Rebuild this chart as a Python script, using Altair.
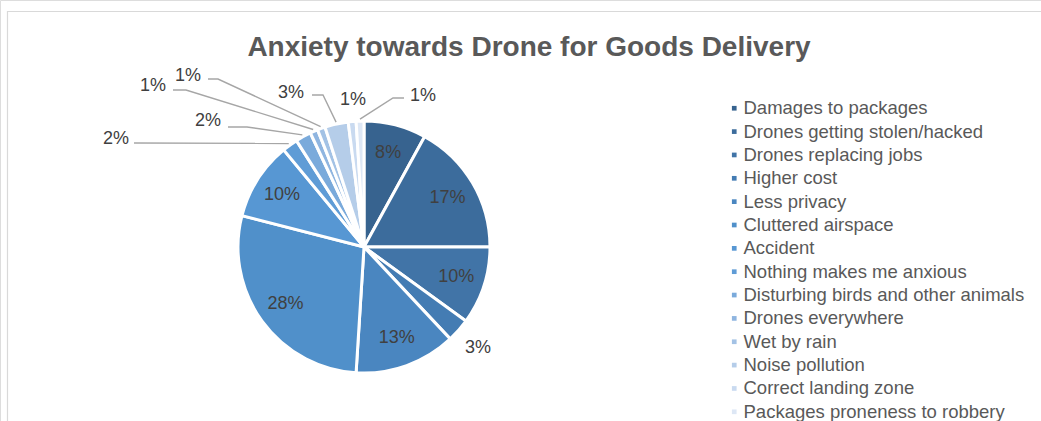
import math
import altair as alt
import pandas as pd

# ---------------- data ----------------
categories = [
    "Damages to packages",
    "Drones getting stolen/hacked",
    "Drones replacing jobs",
    "Higher cost",
    "Less privacy",
    "Cluttered airspace",
    "Accident",
    "Nothing makes me anxious",
    "Disturbing birds and other animals",
    "Drones everywhere",
    "Wet by rain",
    "Noise pollution",
    "Correct landing zone",
    "Packages proneness to robbery",
]
values = [8, 17, 10, 3, 13, 28, 10, 2, 2, 1, 1, 3, 1, 1]
colors = [
    "#37638F", "#3C6C9C", "#4174A7", "#447CB3", "#4A86C0", "#5090CA", "#5797D3",
    "#5F9CD6", "#7AAADB", "#8FB5E0", "#A3C2E5", "#B5CDE9", "#C9DAF0", "#DDE7F5",
]
title_text = "Anxiety towards Drone for Goods Delivery"

# label placement: "in" = inside slice, "out" = just outside, "lead" = leader line
label_mode = ["in", "in", "in", "out", "in", "in", "in",
              "lead", "lead", "lead", "lead", "lead", "lead", "lead"]

# ---------------- layout ----------------
W, H = 1041, 421
CX, CY, R = 364, 247, 126
FONT = "Liberation Sans"
# leader-label layout for small slices: (label x, label y, anchor x, anchor y, elbow x, elbow y)
lead_layout = {
    "Nothing makes me anxious": (116, 139, 134, 143, 134, 143),
    "Disturbing birds and other animals": (208, 121, 228, 127, 247, 127),
    "Drones everywhere": (153, 86, 173, 90, 186, 90),
    "Wet by rain": (188, 76, 208, 79, 218, 79),
    "Noise pollution": (291, 93, 312, 95, 323, 95),
    "Correct landing zone": (353, 100, None, None, None, None),
    "Packages proneness to robbery": (423, 96, 404, 98, 393, 98),
}

total = sum(values)
pct = [f"{round(v / total * 100)}%" for v in values]
df = pd.DataFrame({
    "category": categories,
    "value": values,
    "idx": list(range(len(categories))),
    "in_label": [p if m == "in" else "" for p, m in zip(pct, label_mode)],
    "out_label": [p if m == "out" else "" for p, m in zip(pct, label_mode)],
})

# leader lines & labels derived from slice mid-angles
cum = 0
line_rows, lab_rows = [], []
for cat, v, p, m in zip(categories, values, pct, label_mode):
    mid = (cum + v / 2) / total * 2 * math.pi
    cum += v
    if m != "lead":
        continue
    lx, ly, ax, ay, ex, ey = lead_layout[cat]
    lab_rows.append({"x": lx, "y": ly, "t": p})
    if ax is None:
        continue
    sx = CX + (R + 2) * math.sin(mid)
    sy = CY - (R + 2) * math.cos(mid)
    for k, (px, py) in enumerate([(ax, ay), (ex, ey), (sx, sy)]):
        line_rows.append({"cat": cat, "k": k, "x": px, "y": py})
lines_df = pd.DataFrame(line_rows)
labs_df = pd.DataFrame(lab_rows)

xs = alt.Scale(domain=[0, W], range=[0, W])
ys = alt.Scale(domain=[0, H], range=[0, H])

border = alt.Chart(pd.DataFrame({"a": [0]})).mark_rect(
    fill=None, stroke="#D9D9D9", strokeWidth=1.2
).encode(x=alt.value(7.5), x2=alt.value(W + 20), y=alt.value(11.5), y2=alt.value(H + 20))

title = alt.Chart(pd.DataFrame({"t": [title_text]})).mark_text(
    font=FONT, fontSize=28, fontWeight="bold", color="#595959", align="center", baseline="middle"
).encode(x=alt.value(529), y=alt.value(48), text="t:N")

theta = alt.Theta("value:Q", stack=True)
order = alt.Order("idx:Q", sort="ascending")

pie = alt.Chart(df).mark_arc(
    outerRadius=R, stroke="white", strokeWidth=3
).encode(
    theta=theta,
    order=order,
    x=alt.value(CX),
    y=alt.value(CY),
    color=alt.Color(
        "category:N",
        scale=alt.Scale(domain=categories, range=colors),
        sort=categories,
        legend=alt.Legend(
            title=None, orient="none", legendX=725, legendY=99,
            symbolType="square", symbolSize=22, symbolStrokeWidth=0,
            labelFont=FONT, labelFontSize=18.5, labelColor="#595959",
            labelOffset=0, rowPadding=4.35, padding=0, labelLimit=400,
        ),
    ),
)

in_text = alt.Chart(df).mark_text(
    radius=97, font=FONT, fontSize=18, color="#404040"
).encode(theta=theta, order=order, x=alt.value(CX), y=alt.value(CY), text="in_label:N")

out_text = alt.Chart(df).mark_text(
    radius=152, font=FONT, fontSize=18, color="#404040"
).encode(theta=theta, order=order, x=alt.value(CX), y=alt.value(CY), text="out_label:N")

leaders = alt.Chart(lines_df).mark_line(color="#A6A6A6", strokeWidth=1.4).encode(
    x=alt.X("x:Q", scale=xs, axis=None),
    y=alt.Y("y:Q", scale=ys, axis=None),
    detail="cat:N",
    order="k:Q",
)

lead_text = alt.Chart(labs_df).mark_text(
    font=FONT, fontSize=18, color="#404040", align="center", baseline="middle"
).encode(x=alt.X("x:Q", scale=xs, axis=None), y=alt.Y("y:Q", scale=ys, axis=None), text="t:N")

chart = alt.layer(border, title, pie, in_text, out_text, leaders, lead_text).properties(
    width=W, height=H, padding=0, autosize=alt.AutoSizeParams(type="none")
).configure_view(stroke=None).configure(background="white")

chart.save("out.html", embed_options={"renderer": "svg", "actions": False})
